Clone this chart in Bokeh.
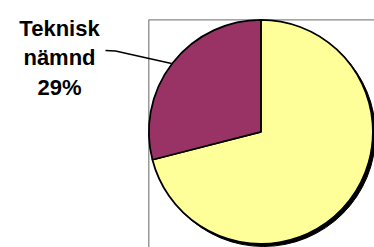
import math
from bokeh.plotting import figure
from bokeh.models import Range1d
from bokeh.core.properties import value
from bokeh.embed import file_html
from bokeh.resources import INLINE

# Data
categories = ["Övriga", "Teknisk nämnd"]
values = [71, 29]
colors = ["#FFFF99", "#993366"]
labelled = [False, True]

W, H = 374, 247
p = figure(width=W, height=H, output_backend="svg", toolbar_location=None,
           x_range=Range1d(0, W), y_range=Range1d(0, H), min_border=0)
p.axis.visible = False
p.grid.visible = False
p.outline_line_color = None
p.background_fill_color = "white"
p.border_fill_color = "white"

def px(x):  # page x -> data x
    return x

def py(y):  # page y -> data y
    return H - y

# plot-area border (extends beyond the window)
p.quad(left=px(148.3), right=px(420), top=py(19.3), bottom=py(300),
       fill_color=None, line_color="#888888", line_width=1.3)

cx, cy, r = px(260.4), py(131.4), 112

# shadow
p.circle(x=[cx + 2.6], y=[cy - 2.6], radius=r, fill_color="black", line_color="black")

total = sum(values)
cum = 0
starts, ends = [], []
for v in values:
    a0 = math.pi / 2 - 2 * math.pi * cum / total
    cum += v
    a1 = math.pi / 2 - 2 * math.pi * cum / total
    starts.append(a0)
    ends.append(a1)

p.wedge(x=cx, y=cy, radius=r, start_angle=starts, end_angle=ends, direction="clock",
        fill_color=colors, line_color="black", line_width=1.8)

# label for labelled slice
for cat, v, lab in zip(categories, values, labelled):
    if not lab:
        continue
    pct = f"{round(100 * v / total)}%"
    lines = cat.split(" ") + [pct]
    baselines = [27.5, 57, 87]
    p.text(x=[px(59)] * len(lines), y=[py(b) for b in baselines], text=lines,
           text_font=value("Liberation Sans"), text_font_style="bold",
           text_font_size="22px", text_align="center", text_baseline="alphabetic",
           text_color="black")
    p.line(x=[px(105), px(115), px(171)], y=[py(50), py(50.5), py(63)],
           line_color="black", line_width=1.6)

open("out.html", "w").write(file_html(p, INLINE))
